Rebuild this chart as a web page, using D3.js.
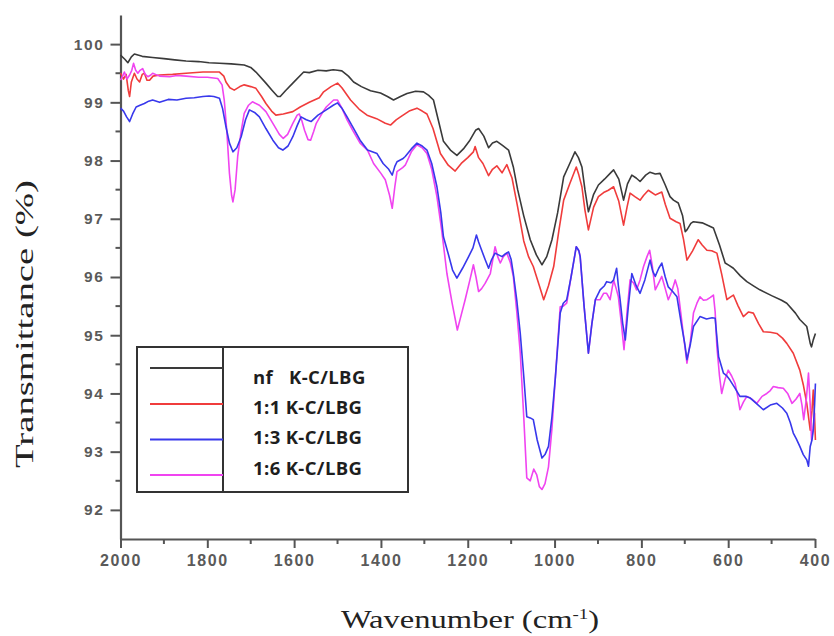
<!DOCTYPE html>
<html>
<head>
<meta charset="utf-8">
<script src="https://cdn.jsdelivr.net/npm/d3@7"></script>
<style>
  html, body { margin: 0; padding: 0; background: #fff; }
  svg { display: block; }
</style>
</head>
<body>
<svg id="chart" width="834" height="636"></svg>
<script>
// FTIR spectra, transmittance (%) vs wavenumber (cm-1)
const seriesNames = ["nf", "1:1", "1:3", "1:6"];
const seriesSuffix = "K-C/LBG";
const seriesColors = ["#3a3a3a", "#f03c3c", "#3838ec", "#f044f0"];

const xTicksMajor = [2000, 1800, 1600, 1400, 1200, 1000, 800, 600, 400];
const yTicksMajor = [92, 93, 94, 95, 96, 97, 98, 99, 100];

const nfSpectrum = [
  [2000,99.81],[1990,99.74],[1983,99.68],[1975,99.78],[1968,99.83],[1950,99.79],[1926,99.77],
  [1900,99.75],[1875,99.73],[1849,99.71],[1820,99.70],[1796,99.68],[1772,99.67],[1745,99.66],
  [1715,99.64],[1700,99.60],[1688,99.52],[1665,99.33],[1650,99.20],[1638,99.10],[1632,99.10],
  [1620,99.20],[1603,99.33],[1578,99.52],[1565,99.51],[1545,99.55],[1526,99.54],[1510,99.56],
  [1500,99.55],[1490,99.54],[1475,99.45],[1463,99.35],[1445,99.27],[1424,99.20],[1401,99.16],
  [1385,99.10],[1371,99.04],[1355,99.10],[1340,99.15],[1320,99.19],[1302,99.18],[1290,99.12],
  [1279,99.04],[1268,98.70],[1256,98.33],[1240,98.18],[1225,98.09],[1210,98.20],[1195,98.35],
  [1182,98.52],[1175,98.55],[1163,98.42],[1152,98.22],[1143,98.30],[1133,98.33],[1120,98.26],
  [1106,98.18],[1095,97.89],[1085,97.50],[1071,97.05],[1056,96.64],[1042,96.38],[1029,96.21],
  [1018,96.35],[1006,96.64],[993,97.10],[979,97.72],[965,97.95],[953,98.15],[945,98.05],
  [937,97.89],[930,97.50],[922,97.12],[910,97.42],[899,97.58],[885,97.68],[872,97.78],
  [864,97.84],[852,97.68],[841,97.32],[832,97.60],[822,97.75],[812,97.70],[803,97.64],
  [790,97.75],[780,97.80],[768,97.77],[757,97.78],[745,97.58],[734,97.38],[726,97.32],
  [715,97.27],[705,97.05],[699,96.78],[695,96.81],[686,96.92],[680,96.95],[660,96.93],
  [645,96.88],[634,96.84],[620,96.55],[607,96.24],[598,96.20],[588,96.15],[572,96.02],
  [557,95.92],[540,95.84],[527,95.78],[500,95.68],[477,95.60],[465,95.55],[445,95.38],
  [435,95.27],[419,95.15],[411,94.86],[408,94.80],[404,94.92],[399,95.03]
];

const ratio11Spectrum = [
  [2000,99.50],[1993,99.40],[1987,99.48],[1982,99.20],[1979,99.10],[1975,99.35],[1968,99.50],
  [1962,99.40],[1956,99.35],[1950,99.48],[1945,99.50],[1939,99.38],[1933,99.38],[1925,99.45],
  [1910,99.47],[1880,99.48],[1849,99.50],[1810,99.52],[1772,99.52],[1762,99.45],[1757,99.35],
  [1748,99.25],[1738,99.21],[1725,99.27],[1715,99.30],[1700,99.27],[1688,99.24],[1675,99.10],
  [1665,98.98],[1652,98.85],[1642,98.78],[1625,98.80],[1603,98.84],[1586,98.92],[1565,99.00],
  [1542,99.08],[1532,99.18],[1515,99.27],[1500,99.33],[1490,99.25],[1470,99.04],[1450,98.88],
  [1432,98.78],[1410,98.72],[1390,98.64],[1378,98.61],[1365,98.70],[1355,98.75],[1335,98.85],
  [1317,98.90],[1305,98.85],[1294,98.80],[1280,98.55],[1263,98.12],[1245,97.92],[1229,97.82],
  [1215,97.95],[1200,98.05],[1187,98.15],[1183,98.24],[1175,98.05],[1165,97.95],[1152,97.74],
  [1143,97.85],[1133,97.91],[1121,97.79],[1110,97.93],[1098,97.70],[1085,97.20],[1071,96.62],
  [1060,96.35],[1049,96.18],[1035,95.85],[1025,95.61],[1014,95.85],[1002,96.18],[990,96.80],
  [979,97.32],[965,97.60],[950,97.89],[944,97.75],[937,97.55],[930,97.15],[922,96.81],
  [910,97.20],[899,97.38],[887,97.45],[876,97.49],[864,97.55],[852,97.30],[841,96.89],
  [833,97.20],[826,97.44],[815,97.38],[803,97.32],[795,97.40],[784,97.49],[768,97.41],
  [753,97.46],[745,97.25],[734,97.01],[720,96.95],[711,96.92],[703,96.65],[695,96.29],
  [682,96.45],[669,96.64],[660,96.55],[649,96.46],[638,96.45],[626,96.41],[615,96.05],
  [603,95.61],[596,95.65],[588,95.69],[577,95.50],[565,95.32],[553,95.40],[542,95.38],
  [530,95.20],[519,95.06],[503,95.05],[488,95.03],[475,94.95],[465,94.86],[450,94.69],
  [435,94.40],[427,94.15],[419,93.83],[411,93.37],[407,93.70],[404,94.06],[401,93.60],[399,93.20]
];

const ratio13Spectrum = [
  [2000,98.90],[1993,98.85],[1986,98.75],[1979,98.67],[1972,98.80],[1964,98.92],[1955,98.95],
  [1945,98.98],[1935,99.02],[1926,99.04],[1910,99.00],[1890,99.05],[1870,99.04],[1849,99.07],
  [1830,99.08],[1810,99.10],[1796,99.11],[1785,99.10],[1772,99.07],[1765,98.90],[1757,98.58],
  [1749,98.30],[1741,98.15],[1732,98.22],[1722,98.41],[1712,98.70],[1703,98.87],[1690,98.82],
  [1680,98.75],[1665,98.55],[1649,98.35],[1636,98.22],[1626,98.18],[1614,98.25],[1603,98.41],
  [1593,98.60],[1584,98.75],[1572,98.70],[1561,98.67],[1545,98.78],[1526,98.87],[1510,98.95],
  [1500,98.99],[1490,98.90],[1478,98.75],[1465,98.58],[1448,98.35],[1431,98.18],[1420,98.15],
  [1409,98.12],[1395,97.95],[1382,97.85],[1374,97.75],[1368,97.90],[1363,97.98],[1350,98.03],
  [1344,98.07],[1330,98.20],[1317,98.30],[1305,98.25],[1294,98.18],[1283,97.95],[1271,97.55],
  [1262,97.10],[1256,96.69],[1245,96.40],[1235,96.12],[1225,95.98],[1212,96.15],[1198,96.35],
  [1188,96.50],[1180,96.72],[1175,96.60],[1171,96.52],[1160,96.30],[1152,96.15],[1145,96.30],
  [1137,96.41],[1121,96.35],[1113,96.40],[1106,96.43],[1100,96.30],[1095,96.06],[1087,95.60],
  [1079,95.03],[1071,94.30],[1064,93.60],[1056,93.58],[1049,93.55],[1040,93.20],[1029,92.89],
  [1022,92.95],[1014,93.09],[1006,93.60],[998,94.29],[987,95.38],[980,95.55],[972,95.61],
  [962,96.00],[950,96.52],[944,96.45],[941,96.35],[932,95.50],[922,94.69],[914,95.20],
  [906,95.61],[895,95.78],[885,95.85],[880,95.92],[870,95.90],[864,95.95],[857,96.15],
  [853,95.85],[849,95.61],[843,95.20],[837,94.92],[830,95.50],[822,96.06],[812,95.85],
  [803,95.72],[792,95.95],[780,96.29],[774,96.10],[768,96.01],[760,96.15],[753,96.24],
  [745,96.00],[738,95.83],[728,95.75],[718,95.66],[707,95.15],[700,94.85],[695,94.58],
  [687,94.85],[680,95.15],[665,95.32],[650,95.28],[637,95.30],[630,95.29],[622,94.63],
  [611,94.35],[603,94.30],[596,94.23],[585,94.10],[573,93.95],[560,93.95],[549,93.92],
  [534,93.82],[519,93.72],[503,93.80],[488,93.83],[475,93.75],[465,93.66],[457,93.50],
  [450,93.32],[443,93.22],[435,93.09],[427,92.95],[419,92.86],[415,92.75],[411,93.09],
  [407,93.20],[404,93.37],[401,93.80],[399,94.17]
];

const ratio16Spectrum = [
  [2000,99.38],[1995,99.45],[1991,99.52],[1985,99.40],[1979,99.47],[1974,99.55],[1970,99.67],
  [1965,99.55],[1960,99.50],[1955,99.55],[1949,99.58],[1943,99.48],[1937,99.44],[1930,99.47],
  [1926,99.50],[1910,99.45],[1887,99.44],[1870,99.46],[1849,99.45],[1820,99.43],[1800,99.43],
  [1776,99.41],[1766,99.30],[1761,99.04],[1755,98.50],[1749,97.78],[1744,97.40],[1741,97.29],
  [1736,97.50],[1730,98.07],[1722,98.50],[1715,98.81],[1705,98.95],[1696,99.01],[1680,98.95],
  [1665,98.84],[1650,98.65],[1634,98.45],[1625,98.38],[1615,98.45],[1603,98.64],[1593,98.78],
  [1588,98.80],[1582,98.68],[1576,98.52],[1568,98.36],[1562,98.35],[1555,98.50],[1549,98.64],
  [1535,98.82],[1526,98.92],[1509,99.04],[1500,99.04],[1490,98.90],[1478,98.70],[1465,98.52],
  [1448,98.30],[1431,98.18],[1417,97.95],[1400,97.78],[1390,97.67],[1380,97.40],[1374,97.18],
  [1368,97.55],[1363,97.81],[1350,97.88],[1344,97.92],[1330,98.15],[1317,98.27],[1305,98.22],
  [1294,98.12],[1283,97.85],[1271,97.38],[1260,96.80],[1248,96.06],[1236,95.55],[1224,95.09],
  [1215,95.35],[1206,95.61],[1195,95.95],[1187,96.21],[1181,96.00],[1175,95.75],[1168,95.80],
  [1160,95.89],[1148,96.06],[1137,96.52],[1131,96.35],[1125,96.24],[1118,96.35],[1110,96.41],
  [1102,96.25],[1095,96.01],[1087,95.40],[1079,94.69],[1071,93.60],[1064,92.55],[1056,92.50],
  [1048,92.70],[1041,92.60],[1035,92.40],[1029,92.35],[1022,92.45],[1014,92.74],[1006,93.40],
  [998,94.29],[987,95.49],[980,95.50],[972,95.55],[962,96.00],[950,96.52],[944,96.45],
  [941,96.35],[932,95.50],[922,94.69],[914,95.20],[906,95.61],[895,95.61],[887,95.72],
  [880,95.72],[872,95.61],[864,95.95],[858,95.80],[853,95.66],[846,95.20],[840,94.75],
  [833,95.40],[826,95.95],[818,95.90],[811,95.78],[803,95.95],[795,96.18],[787,96.35],
  [781,96.46],[775,96.20],[768,95.78],[760,95.90],[753,96.01],[745,95.80],[738,95.61],
  [730,95.75],[722,95.95],[716,95.80],[711,95.49],[703,95.00],[695,94.52],[687,94.90],
  [680,95.38],[672,95.55],[665,95.66],[657,95.60],[649,95.61],[641,95.65],[634,95.69],
  [630,95.40],[626,94.80],[620,94.30],[615,94.00],[607,94.25],[600,94.40],[592,94.30],
  [584,94.17],[578,93.95],[573,93.72],[565,93.85],[557,93.95],[545,93.90],[534,93.83],
  [522,93.95],[511,94.00],[503,94.05],[496,94.12],[485,94.10],[473,94.09],[463,94.00],
  [453,93.83],[444,93.90],[435,94.00],[430,93.80],[426,93.55],[420,93.90],[415,94.35],
  [411,93.80],[408,93.20],[404,93.40],[401,93.66]
];

const spectra = [nfSpectrum, ratio11Spectrum, ratio13Spectrum, ratio16Spectrum];
// magenta underneath, blue above it where the two spectra coincide
const drawOrder = [0, 1, 3, 2];

const svg = d3.select("#chart");
const axisColor = "#555";
const labelColor = "#5a5a5a";

const x = d3.scaleLinear().domain([2000, 400]).range([120.5, 815]);
const y = d3.scaleLinear().domain([91.5, 100.5]).range([539, 15]);

// ---- axes ----
const xMinor = d3.range(1900, 400, -200);
const yMinor = d3.range(92.5, 100.5, 1);

const gx = svg.append("g").attr("transform", `translate(0,${y(91.5)})`);
gx.call(d3.axisBottom(x).tickValues(xTicksMajor).tickSize(9).tickSizeOuter(0).tickFormat(d3.format("d")));
gx.append("g").selectAll("line").data(xMinor).join("line")
  .attr("x1", d => x(d)).attr("x2", d => x(d))
  .attr("y1", 0).attr("y2", 5)
  .attr("stroke", axisColor).attr("stroke-width", 2);

const gy = svg.append("g").attr("transform", `translate(${x(2000)},0)`);
gy.call(d3.axisLeft(y).tickValues(yTicksMajor).tickSize(10).tickSizeOuter(0).tickFormat(d3.format("d")));
gy.append("g").selectAll("line").data(yMinor).join("line")
  .attr("x1", 0).attr("x2", -5)
  .attr("y1", d => y(d)).attr("y2", d => y(d))
  .attr("stroke", axisColor).attr("stroke-width", 2);

[gx, gy].forEach(g => {
  g.select(".domain").attr("stroke", axisColor).attr("stroke-width", 2.2);
  g.selectAll(".tick line").attr("stroke", axisColor).attr("stroke-width", 2);
  g.selectAll(".tick text")
    .attr("fill", labelColor)
    .style("font-family", "'Liberation Sans', Arial, sans-serif")
    .style("font-weight", "bold")
    .style("letter-spacing", "1.6px");
});
gx.selectAll(".tick text").style("font-size", "16px").attr("y", 16);
gy.selectAll(".tick text").style("font-size", "15.5px").attr("x", -16);

// ---- axis titles ----
svg.append("text")
  .attr("transform", "translate(33,468) rotate(-90)")
  .attr("x", 0).attr("y", 0)
  .attr("textLength", 288)
  .attr("lengthAdjust", "spacingAndGlyphs")
  .style("font-family", "'Liberation Serif', 'Times New Roman', serif")
  .style("font-size", "26px")
  .attr("fill", "#222")
  .text("Transmittance (%)");

const xTitle = svg.append("text")
  .attr("x", 341).attr("y", 628)
  .attr("textLength", 258)
  .attr("lengthAdjust", "spacingAndGlyphs")
  .style("font-family", "'Liberation Serif', 'Times New Roman', serif")
  .style("font-size", "26px")
  .attr("fill", "#222");
xTitle.append("tspan").text("Wavenumber (cm");
xTitle.append("tspan").attr("dy", -9).style("font-size", "15px").text("-1");
xTitle.append("tspan").attr("dy", 9).text(")");

// ---- spectra ----
const line = d3.line()
  .x(d => x(d[0]))
  .y(d => y(d[1]))
  .curve(d3.curveLinear);

svg.append("g").selectAll("path")
  .data(drawOrder)
  .join("path")
  .attr("d", i => line(spectra[i]))
  .attr("fill", "none")
  .attr("stroke", i => seriesColors[i])
  .attr("stroke-width", 1.6)
  .attr("stroke-linejoin", "round");

// ---- legend ----
const legend = svg.append("g");
legend.append("rect")
  .attr("x", 137).attr("y", 347).attr("width", 271).attr("height", 145)
  .attr("fill", "none").attr("stroke", "#333").attr("stroke-width", 2);
legend.append("line")
  .attr("x1", 223).attr("x2", 223).attr("y1", 347).attr("y2", 492)
  .attr("stroke", "#333").attr("stroke-width", 2);

const swatchY = [368, 404, 439.5, 475];
const textY = [384, 413.5, 444, 474.5];

legend.selectAll("line.swatch")
  .data(seriesNames)
  .join("line")
  .attr("class", "swatch")
  .attr("x1", 150).attr("x2", 223)
  .attr("y1", (d, i) => swatchY[i]).attr("y2", (d, i) => swatchY[i])
  .attr("stroke", (d, i) => seriesColors[i])
  .attr("stroke-width", 2);

const labels = legend.selectAll("text.label")
  .data(seriesNames)
  .join("text")
  .attr("class", "label")
  .attr("y", (d, i) => textY[i])
  .attr("fill", "#1e1e1e")
  .style("font-family", "'Open Sans', 'Liberation Sans', sans-serif")
  .style("font-weight", "bold")
  .style("font-size", "18.5px")
  .style("letter-spacing", "0.4px");
labels.append("tspan").attr("x", 253).text(d => d);
labels.append("tspan").attr("x", (d, i) => i === 0 ? 289 : null).attr("dx", (d, i) => i === 0 ? 0 : 5).text(seriesSuffix);
</script>
</body>
</html>
